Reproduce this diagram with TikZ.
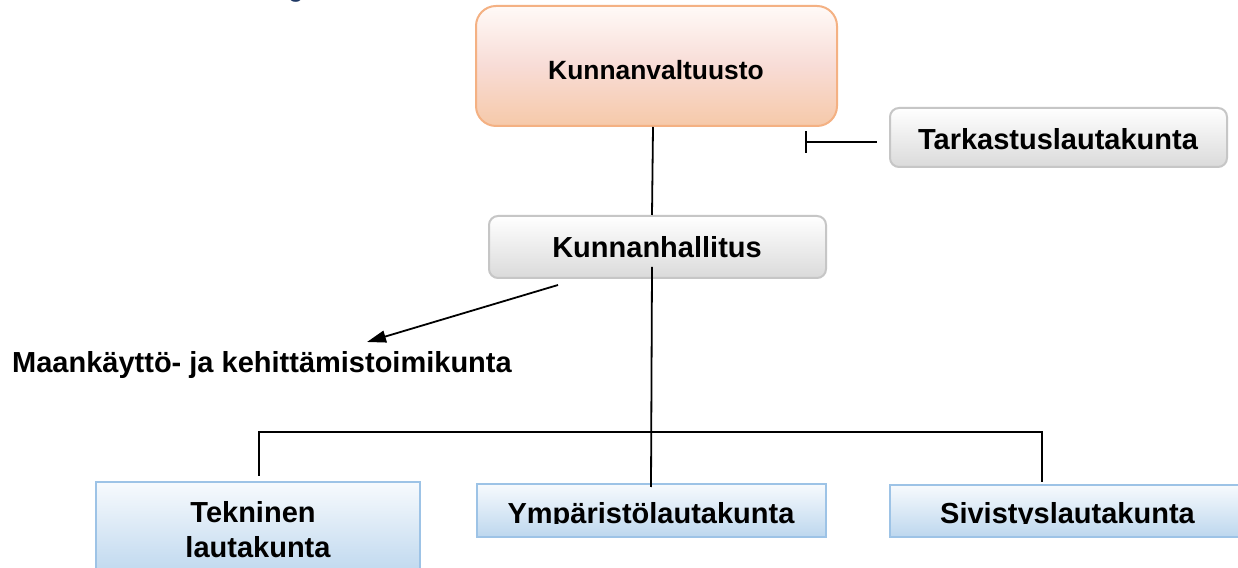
\documentclass[tikz,border=0pt]{standalone}
\usepackage{fontspec}
\setmainfont{Liberation Sans}
\usetikzlibrary{arrows.meta}
\definecolor{peachB}{HTML}{F4B183}
\definecolor{peachTop}{HTML}{FFFAF7}
\definecolor{peachMid}{HTML}{F8DCD6}
\definecolor{peachBot}{HTML}{F6C9A9}
\definecolor{grayB}{HTML}{C6C6C6}
\definecolor{grayBot}{HTML}{DADADA}
\definecolor{blueB}{HTML}{9DC3E6}
\definecolor{blueTop}{HTML}{F7FAFD}
\definecolor{blueBot}{HTML}{BDD7EE}
\definecolor{navy}{HTML}{1F3864}
\tikzset{
  peachbox/.style={draw=peachB, line width=2pt, rounded corners=20pt,
    top color=peachTop, bottom color=peachBot, middle color=peachMid},
  graybox/.style={draw=grayB, line width=2pt, rounded corners=9pt,
    top color=white, bottom color=grayBot},
  bluebox/.style={draw=blueB, line width=2pt,
    top color=blueTop, bottom color=blueBot},
  lbl/.style={font=\bfseries\fontsize{29}{34}\selectfont, inner sep=0pt, anchor=base},
  conn/.style={draw=black, line width=1.8pt}
}
\begin{document}
\begin{tikzpicture}[x=1pt,y=1pt]
\useasboundingbox (0,0) rectangle (1238,567);
\fill[white] (0,0) rectangle (1238,567);

% cut-off heading fragment
\node[font=\fontsize{28}{30}\selectfont, text=navy, inner sep=0pt, anchor=base] (hd) at (296,570) {g};

% boxes
\node[peachbox, minimum width=361pt, minimum height=120pt] (kv) at (656.5,501) {};
\node[lbl, font=\bfseries\fontsize{26.4}{30}\selectfont] (kvt) at (656,487) {Kunnanvaltuusto};

\node[graybox, minimum width=337pt, minimum height=59pt] (tk) at (1058.5,429.5) {};
\node[lbl] (tkt) at (1058,417) {Tarkastuslautakunta};

\node[graybox, minimum width=337pt, minimum height=62pt] (kh) at (657.5,320) {};
\node[lbl] (kht) at (657,309) {Kunnanhallitus};

\node[lbl, anchor=base west] (mk) at (12,194) {Maankäyttö- ja kehittämistoimikunta};

\node[bluebox, minimum width=324pt, minimum height=95pt] (tek) at (258,37.5) {};
\node[lbl] (tekt1) at (253,44) {Tekninen};
\node[lbl] (tekt2) at (258,10) {lautakunta};

\node[bluebox, minimum width=349pt, minimum height=53pt] (ym) at (651.5,56.5) {};
\node[bluebox, minimum width=352pt, minimum height=52pt] (sv) at (1066,56) {};
\begin{scope}
  \clip (470,43.5) rectangle (1238,80);
  \node[lbl] (ymt) at (651,43.7) {Ympäristölautakunta};
  \node[lbl] (svt) at (1067.5,43.7) {Sivistyslautakunta};
\end{scope}

% connectors
\draw[conn] ([xshift=-3.5pt]kv.south) -- ([xshift=-5.5pt]kh.north);
\draw[conn] ([xshift=-5.5pt,yshift=12pt]kh.south) -- ([xshift=-0.5pt,yshift=-4pt]ym.north);

\coordinate (busL) at (259,135);
\coordinate (busR) at (1042,135);
\coordinate (tekTop) at ([yshift=5pt]tek.north);
\coordinate (svTop) at ([yshift=2pt]sv.north);
\draw[conn] (tekTop -| busL) |- (busR) -- (svTop -| busR);

\coordinate (arS) at ([xshift=-99.5pt,yshift=-6pt]kh.south);
\coordinate (arE) at (367,225);
\draw[conn, -{Triangle[length=19pt,width=12pt]}] (arS) -- (arE);

\coordinate (tkBar) at (805,425);
\draw[conn, {Bar[width=22pt]}-] (tkBar) -- ([xshift=-12pt,yshift=-4.5pt]tk.west);
\end{tikzpicture}
\end{document}
